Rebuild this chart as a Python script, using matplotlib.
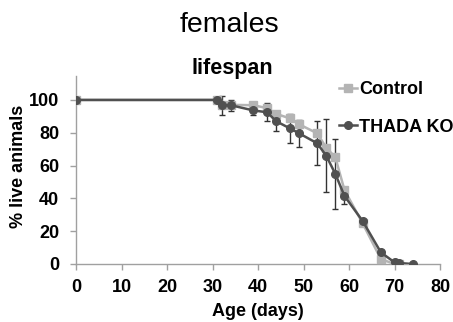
#!/usr/bin/env python

import numpy as np
import matplotlib
matplotlib.use("Agg")
import matplotlib.pyplot as plt

""" lifespan curve, females: Control vs THADA KO """

plt.rcParams['font.family'] = ['Liberation Sans', 'DejaVu Sans']

# survival data (% live animals)
days_ctrl = [0, 31, 32, 34, 39, 42, 44, 47, 49, 53, 55, 57, 59, 63, 67, 70, 71]
ctrl = [100, 100, 97, 97, 96.8, 95, 91.5, 88.8, 85.2, 79.7, 70.9, 65, 45.1, 24.8, 3, 0, 0]

days_ko = [0, 31, 32, 34, 39, 42, 44, 47, 49, 53, 55, 57, 59, 63, 67, 70, 71, 74]
ko = [100, 100, 96.8, 96.8, 93.6, 92.5, 87, 82.7, 79.7, 73.6, 66, 54.9, 41.5, 26.2, 7.1, 1, 0.6, 0]
ko_err = [0.8, 1.5, 5.9, 3.3, 2.8, 5.6, 6, 9, 8.3, 13.4, 22.4, 21.6, 5, 1, 1.2, 0.5, 0.5, 0]

x_ticks = [0, 10, 20, 30, 40, 50, 60, 70, 80]
y_ticks = [0, 20, 40, 60, 80, 100]


def main():
    fig = plt.figure(figsize=(4.53, 3.22), dpi=100)
    ax = fig.add_axes([76 / 453, 1 - 264 / 322, 364 / 453, 188 / 322])

    ax.errorbar(days_ko, ko, yerr=ko_err, fmt='none', ecolor='#333333',
                elinewidth=1.0, capsize=2.5, capthick=1.0, zorder=2)
    ax.plot(days_ctrl, ctrl, color='#b4b4b4', lw=1.8, marker='s', ms=5.5,
            label='Control', zorder=3)
    ax.plot(days_ko, ko, color='#505050', lw=1.8, marker='o', ms=5.5,
            label='THADA KO', zorder=4)

    ax.set_xlim(0, 80)
    ax.set_ylim(0, 114.6)
    ax.set_xticks(x_ticks)
    ax.set_yticks(y_ticks)

    for s in ['top', 'right']:
        ax.spines[s].set_visible(False)
    for s in ['left', 'bottom']:
        ax.spines[s].set_color('#a0a0a0')
        ax.spines[s].set_linewidth(1.0)
    ax.tick_params(axis='both', color='#a0a0a0', length=4, width=1.0,
                   labelsize=13)
    ax.tick_params(axis='y', pad=8)
    ax.tick_params(axis='x', pad=7)
    for lab in ax.get_xticklabels() + ax.get_yticklabels():
        lab.set_fontweight('bold')

    ax.set_xlabel('Age (days)', fontsize=13, fontweight='bold')
    ax.set_ylabel('% live animals', fontsize=13, fontweight='bold')
    ax.xaxis.set_label_coords(0.5, -0.205)
    ax.yaxis.set_label_coords(-0.135, 0.52)

    leg = ax.legend(loc='upper left', bbox_to_anchor=(339 / 453, 1 - 81 / 322),
                    bbox_transform=fig.transFigure, frameon=False,
                    fontsize=13, borderpad=0, borderaxespad=0,
                    handlelength=1.0, handletextpad=0.1, labelspacing=1.15)
    for t in leg.get_texts():
        t.set_fontweight('bold')

    fig.text(0.507, 0.922, 'females', fontsize=20.5, ha='center', va='center')
    fig.text(0.512, 0.787, 'lifespan', fontsize=15.5, fontweight='bold',
             ha='center', va='center')

    fig.savefig('out.png', dpi=100)


if __name__ == "__main__":
    main()
